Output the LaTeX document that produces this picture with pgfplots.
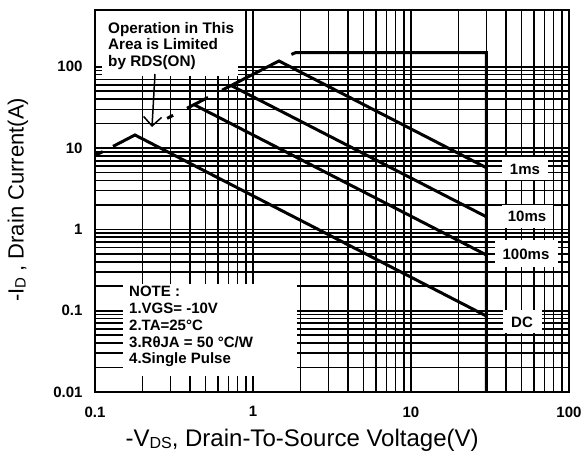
\documentclass[border=0pt]{standalone}
\usepackage{fontspec}
\setmainfont{Liberation Sans}
\usepackage{pgfplots}
\pgfplotsset{compat=1.18}
\usetikzlibrary{arrows.meta}
\begin{document}
\begin{tikzpicture}
\path[use as bounding box] (-95pt,-63pt) rectangle (489pt,392pt);
\begin{axis}[
  at={(0,0)}, anchor=south west,
  width=474pt, height=382pt, scale only axis,
  xmode=log, ymode=log,
  xmin=0.1, xmax=100, ymin=0.01, ymax=500,
  xtick={0.1,1,10,100}, xticklabels={0.1,1,10,100},
  ytick={0.01,0.1,1,10,100}, yticklabels={0.01,0.1,1,10,100},
  /pgf/number format/assume math mode=true,
  tick label style={font=\bfseries\fontsize{15}{15}\selectfont},
  xticklabel style={yshift=-11pt},
  yticklabel style={xshift=-9pt},
  grid=both,
  major grid style={black, line width=1.6pt},
  minor grid style={black, line width=1.6pt},
  major tick length=0pt, minor tick length=0pt,
  axis line style={black, line width=2pt},
  xlabel={-V{\fontsize{16}{16}\selectfont\raisebox{-2pt}{DS}}, Drain-To-Source Voltage(V)},
  ylabel={-I{\fontsize{15}{15}\selectfont\raisebox{-2pt}{D}} , Drain Current(A)},
  xlabel style={at={(axis description cs:0.437,-0.1257)}, anchor=center, font=\fontsize{24}{24}\selectfont},
  ylabel style={at={(axis description cs:-0.1624,0.503)}, anchor=center, font=\fontsize{22}{22}\selectfont},
]
% RDS(on) dashed segments
\addplot[black, line width=3pt] coordinates {(0.1,8.1) (0.112,9.07)};
\addplot[black, line width=3pt] coordinates {(0.286,23.2) (0.312,25.3)};
\addplot[black, line width=3pt] coordinates {(0.382,30.9) (0.519,42.0)};
% DC
\addplot[black, line width=3pt, line join=miter] coordinates {(0.130,10.5) (0.179,14.5) (30,0.086)};
% 100ms
\addplot[black, line width=3pt] coordinates {(0.423,34.3) (30,0.485)};
% 10ms
\addplot[black, line width=3pt] coordinates {(0.727,58.9) (30,1.43)};
% 1ms with RDS segment
\addplot[black, line width=3pt, line join=miter] coordinates {(0.637,51.6) (1.46,118) (30,5.74)};
% top limit and vertical BVdss
\addplot[black, line width=3pt, line join=miter] coordinates {(1.75,142) (1.87,150) (30,150) (30,0.01)};
\end{axis}
% annotation boxes
\fill[white] (7pt,316pt) rectangle (143pt,381pt);
\node[anchor=north west, inner sep=0pt, align=left, font=\bfseries\fontsize{15.3}{16.7}\selectfont] at (13pt,370pt) {Operation in This\\Area is Limited\\by RDS(ON)};
\draw[line width=1.5pt, -{Straight Barb[length=9pt,width=18pt]}] (60pt,318pt) -- (57pt,265pt);
\fill[white] (28pt,16pt) rectangle (202pt,108pt);
\node[anchor=north west, inner sep=0pt, align=left, font=\bfseries\fontsize{15}{16.8}\selectfont] at (34pt,106pt) {NOTE :\\1.VGS= -10V\\2.TA=25°C\\3.RθJA = 50 °C/W\\4.Single Pulse};
\fill[white] (407pt,212pt) rectangle (453pt,235pt);
\node[font=\bfseries\fontsize{15}{15}\selectfont] at (430pt,223pt) {1ms};
\fill[white] (407pt,164pt) rectangle (458pt,187pt);
\node[font=\bfseries\fontsize{15}{15}\selectfont] at (432pt,176pt) {10ms};
\fill[white] (400pt,125pt) rectangle (463pt,152pt);
\node[font=\bfseries\fontsize{15}{15}\selectfont] at (431pt,138pt) {100ms};
\fill[white] (408pt,59pt) rectangle (447pt,82pt);
\node[font=\bfseries\fontsize{15}{15}\selectfont] at (427pt,70pt) {DC};
\end{tikzpicture}
\end{document}
